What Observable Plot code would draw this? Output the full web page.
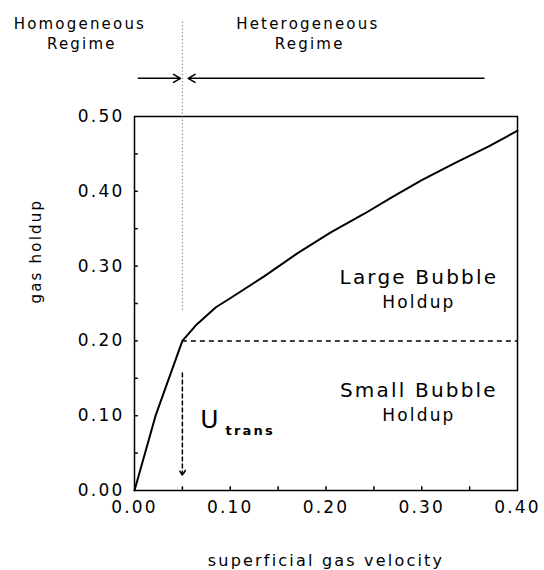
<!DOCTYPE html>
<html>
<head>
<meta charset="utf-8">
<script src="https://cdn.jsdelivr.net/npm/d3@7"></script>
<script src="https://cdn.jsdelivr.net/npm/@observablehq/plot@0.6"></script>
<style>
  body { margin: 0; background: #fff; }
</style>
</head>
<body>
<div id="chart"></div>
<script>
// Gas holdup against superficial gas velocity in a bubble column
const velocity = [0, 0.022, 0.05, 0.065, 0.085, 0.10, 0.135, 0.17, 0.205, 0.24, 0.27, 0.30, 0.335, 0.37, 0.40];
const holdup   = [0, 0.100, 0.200, 0.222, 0.245, 0.257, 0.286, 0.317, 0.345, 0.370, 0.393, 0.415, 0.438, 0.460, 0.481];

// Regime transition point
const uTrans = 0.05;
const holdupTrans = 0.20;

// Axis ticks
const xTicks = [0, 0.1, 0.2, 0.3, 0.4];
const yTicks = [0, 0.1, 0.2, 0.3, 0.4, 0.5];
const xMinorTicks = [0.05, 0.1, 0.15, 0.2, 0.25, 0.3, 0.35];
const yMinorTicks = [0.05, 0.1, 0.15, 0.2, 0.25, 0.3, 0.35, 0.4, 0.45];

// Labels
const regimeNames = ["Homogeneous", "Heterogeneous"];
const regimeWord = "Regime";
const bubbleNames = ["Large Bubble", "Small Bubble"];
const holdupWord = "Holdup";
const xLabel = "superficial gas velocity";
const yLabel = "gas holdup";

const curve = velocity.map((v, i) => ({velocity: v, holdup: holdup[i]}));
const fmt = d3.format(".2f");

const chart = Plot.plot({
  width: 544,
  height: 570,
  marginLeft: 134,
  marginRight: 27,
  marginTop: 116,
  marginBottom: 80,
  x: {domain: [0, 0.4]},
  y: {domain: [0, 0.5]},
  style: {
    fontFamily: "'DejaVu Sans', sans-serif",
    background: "white",
    color: "black",
    letterSpacing: "2.2px"
  },
  marks: [
    Plot.frame({stroke: "black", strokeWidth: 1.5}),
    // inward minor ticks
    Plot.ruleX(xMinorTicks, {x: d => d, y1: 0, y2: 0.005, stroke: "black", strokeWidth: 1.5}),
    Plot.ruleY(yMinorTicks, {y: d => d, x1: 0, x2: 0.004, stroke: "black", strokeWidth: 1.5}),
    Plot.axisX({ticks: xTicks, tickFormat: fmt, tickSize: 0, tickPadding: 10, fontSize: 17, label: null}),
    Plot.axisY({ticks: yTicks, tickFormat: fmt, tickSize: 0, tickPadding: 10, fontSize: 17, label: null}),
    // axis titles
    Plot.text([xLabel], {frameAnchor: "bottom", dy: 75, lineAnchor: "bottom", fontSize: 16}),
    Plot.text([yLabel], {frameAnchor: "left", dx: -98, rotate: -90, fontSize: 15}),
    // transition guides
    Plot.ruleX([uTrans], {y1: 0.241, y2: 0.627, stroke: "#555", strokeWidth: 1, strokeDasharray: "1,2.5"}),
    Plot.ruleY([holdupTrans], {x1: uTrans, x2: 0.4, stroke: "black", strokeWidth: 1.5, strokeDasharray: "5,4"}),
    Plot.arrow([uTrans], {x1: d => d, x2: d => d, y1: 0.157, y2: 0.02, stroke: "black", strokeWidth: 1.5, strokeDasharray: "4,3", headLength: 6}),
    // holdup curve
    Plot.line(curve, {x: "velocity", y: "holdup", stroke: "black", strokeWidth: 2}),
    // regime arrows
    Plot.arrow([uTrans], {x1: 0.004, x2: d => d - 0.002, y1: 0.551, y2: 0.551, stroke: "black", strokeWidth: 1.5, headLength: 8}),
    Plot.arrow([uTrans], {x1: 0.365, x2: d => d + 0.006, y1: 0.551, y2: 0.551, stroke: "black", strokeWidth: 1.5, headLength: 8}),
    // regime headings
    Plot.text([regimeNames[0]], {x: -0.057, y: 0.617, lineAnchor: "bottom", fontSize: 15}),
    Plot.text([regimeWord], {x: -0.055, y: 0.590, lineAnchor: "bottom", fontSize: 15}),
    Plot.text([regimeNames[1]], {x: 0.181, y: 0.617, lineAnchor: "bottom", fontSize: 15}),
    Plot.text([regimeWord], {x: 0.183, y: 0.590, lineAnchor: "bottom", fontSize: 15}),
    // bubble regions
    Plot.text([bubbleNames[0]], {x: 0.297, y: 0.276, lineAnchor: "bottom", fontSize: 20}),
    Plot.text([holdupWord], {x: 0.297, y: 0.244, lineAnchor: "bottom", fontSize: 17}),
    Plot.text([bubbleNames[1]], {x: 0.297, y: 0.125, lineAnchor: "bottom", fontSize: 20}),
    Plot.text([holdupWord], {x: 0.297, y: 0.093, lineAnchor: "bottom", fontSize: 17}),
    // transition velocity label
    Plot.text(["U"], {x: 0.0794, y: 0.084, lineAnchor: "bottom", fontSize: 25}),
    Plot.text(["trans"], {x: 0.095, y: 0.0747, lineAnchor: "bottom", textAnchor: "start", fontSize: 13, fontWeight: "bold", letterSpacing: "0.5px"})
  ]
});

document.getElementById("chart").appendChild(chart);
</script>
</body>
</html>
